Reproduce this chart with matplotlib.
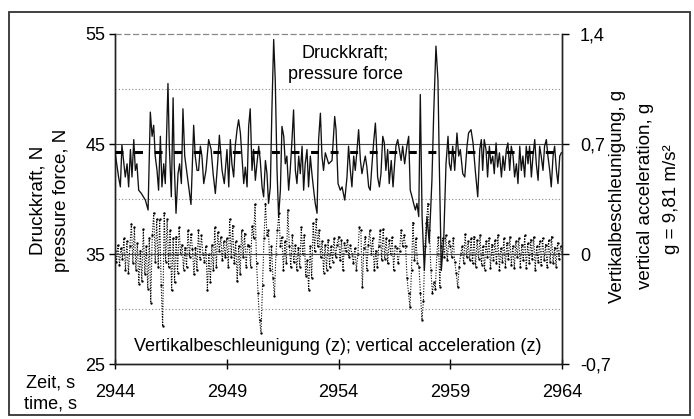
import matplotlib
matplotlib.use("Agg")
import matplotlib.pyplot as plt
import numpy as np
from matplotlib.patches import Rectangle

plt.rcParams['font.family'] = ['Liberation Sans', 'DejaVu Sans']

# ---------------- data ----------------
force_t = [
    2944.00, 2944.16, 2944.24, 2944.31, 2944.46, 2944.54, 2944.61, 2944.69, 2944.76, 2944.84, 2944.91, 2944.98,
    2945.06, 2945.18, 2945.36, 2945.48, 2945.58, 2945.66, 2945.73, 2945.80, 2945.88, 2945.95,
    2946.03, 2946.10, 2946.18, 2946.25, 2946.37, 2946.43, 2946.52, 2946.60, 2946.65, 2946.73, 2946.82, 2946.89, 2946.97,
    2947.04, 2947.12, 2947.22, 2947.30, 2947.40, 2947.52, 2947.59, 2947.67, 2947.74, 2947.82, 2947.89, 2947.97,
    2948.07, 2948.19, 2948.30, 2948.39, 2948.49, 2948.59, 2948.67, 2948.79, 2948.89,
    2949.01, 2949.09, 2949.16, 2949.23, 2949.31, 2949.38, 2949.46, 2949.53, 2949.61, 2949.68, 2949.76, 2949.83, 2949.91, 2949.98,
    2950.05, 2950.13, 2950.20, 2950.28, 2950.35, 2950.43, 2950.50, 2950.58, 2950.65, 2950.73, 2950.80, 2950.87, 2950.95,
    2951.02, 2951.10, 2951.17, 2951.25, 2951.32, 2951.40, 2951.47, 2951.55, 2951.62, 2951.69, 2951.77, 2951.84, 2951.92, 2951.99,
    2952.07, 2952.14, 2952.22, 2952.29, 2952.37, 2952.44, 2952.51, 2952.59, 2952.66, 2952.74, 2952.81, 2952.89, 2952.96,
    2953.04, 2953.11, 2953.19, 2953.26, 2953.33, 2953.41, 2953.56, 2953.71,
    2953.83, 2953.89, 2953.98, 2954.08, 2954.16, 2954.28, 2954.38, 2954.45, 2954.53, 2954.60, 2954.68, 2954.75, 2954.83, 2954.90, 2954.98,
    2955.05, 2955.13, 2955.20, 2955.27, 2955.35, 2955.42, 2955.50, 2955.57, 2955.65, 2955.69, 2955.75, 2955.83, 2955.90, 2955.98,
    2956.05, 2956.12, 2956.20, 2956.27, 2956.36, 2956.44, 2956.51, 2956.57, 2956.65, 2956.72, 2956.80, 2956.87, 2956.96,
    2957.06, 2957.14, 2957.21, 2957.29, 2957.36, 2957.44, 2957.51, 2957.59, 2957.66, 2957.74, 2957.84, 2957.96,
    2958.06, 2958.18, 2958.26, 2958.36, 2958.45, 2958.51, 2958.60, 2958.71,
    2958.81, 2958.90, 2958.96, 2959.03, 2959.11, 2959.20, 2959.30, 2959.38, 2959.45, 2959.56, 2959.65, 2959.75, 2959.82, 2959.93,
    2960.02, 2960.12, 2960.23, 2960.32, 2960.39, 2960.45, 2960.52, 2960.60, 2960.67, 2960.75, 2960.82, 2960.90, 2960.97,
    2961.05, 2961.12, 2961.20, 2961.29, 2961.36, 2961.43, 2961.51, 2961.58, 2961.66, 2961.73, 2961.81, 2961.88, 2961.96,
    2962.03, 2962.11, 2962.18, 2962.25, 2962.33, 2962.40, 2962.48, 2962.55, 2962.63, 2962.70, 2962.78, 2962.85, 2962.93,
    2963.00, 2963.07, 2963.15, 2963.22, 2963.30, 2963.37, 2963.45, 2963.52, 2963.60, 2963.67, 2963.75, 2963.82, 2963.90, 2963.97,
]
force_n = [
    44.3, 42.0, 41.1, 44.9, 42.0, 43.2, 41.1, 44.5, 42.0, 45.4, 42.6, 43.2,
    40.8, 40.5, 39.9, 39.0, 47.9, 45.7, 46.7, 43.9, 42.6, 40.8,
    45.7, 41.1, 43.2, 41.4, 50.5, 44.8, 40.2, 49.2, 43.2, 38.7, 42.3, 43.2, 41.4,
    48.2, 43.9, 42.3, 41.1, 39.5, 46.7, 43.9, 42.6, 42.6, 44.8, 43.9, 41.4,
    42.6, 45.4, 44.5, 42.3, 40.5, 43.2, 45.8, 42.6, 41.4,
    44.5, 41.1, 45.4, 43.2, 42.0, 44.8, 46.3, 47.2, 46.0, 43.9, 41.4, 42.9, 41.1, 46.6,
    48.2, 42.6, 44.5, 41.7, 43.2, 44.8, 43.5, 41.1, 40.2, 43.5, 42.3, 39.6, 41.1,
    48.1, 54.5, 50.8, 42.6, 38.4, 40.8, 46.6, 45.7, 43.2, 43.9, 40.8, 42.6, 45.4, 48.1,
    42.6, 41.4, 43.9, 42.3, 44.8, 40.8, 43.2, 44.5, 41.1, 43.9, 42.3, 40.8, 39.6,
    38.7, 45.4, 47.8, 43.9, 42.6, 44.2, 43.2, 43.5,
    47.5, 46.3, 41.4, 40.8, 41.1, 39.9, 42.0, 44.8, 42.6, 41.1, 43.9, 42.6, 44.5, 46.3, 43.5,
    42.3, 43.2, 43.9, 42.9, 41.1, 40.8, 43.2, 45.1, 46.9, 45.4, 42.0, 41.1, 42.3, 45.7,
    45.1, 42.6, 44.5, 41.4, 43.5, 41.1, 43.2, 44.8, 45.4, 44.5, 43.5, 44.8, 43.2,
    44.8, 45.7, 40.8, 40.2, 39.6, 39.0, 39.6, 38.4, 49.5, 38.4, 33.5, 38.4,
    36.0, 41.7, 47.8, 53.9, 50.8, 43.2, 33.5, 36.5,
    43.2, 45.7, 43.2, 42.6, 44.8, 42.6, 46.0, 43.9, 44.5, 42.3, 42.0, 44.8, 46.0, 46.3,
    45.1, 42.6, 40.2, 44.5, 45.4, 42.6, 45.4, 44.5, 42.0, 44.8, 43.2, 43.9, 42.3,
    45.1, 42.9, 44.2, 42.0, 43.9, 42.6, 44.5, 45.1, 42.6, 44.8, 43.9, 42.0, 43.2,
    41.4, 44.8, 42.6, 43.9, 42.0, 44.8, 43.2, 44.8, 42.0, 43.9, 45.4, 43.2, 41.7,
    44.8, 43.9, 42.6, 44.8, 45.4, 43.9, 42.6, 41.1, 43.9, 44.8, 42.6, 41.4, 43.9, 44.2,
]
mean_force = 44.25

# vertical acceleration in g, sampled 15 times per second (one row per second)
accel_rows = [
    [0.02, -0.05, 0.06, -0.07, 0.04, -0.03, 0.10, -0.10, 0.08, -0.12, 0.05, 0.19, -0.06, 0.17, -0.10],
    [0.07, -0.19, 0.02, -0.17, 0.16, -0.13, 0.05, -0.22, 0.10, -0.31, 0.12, 0.26, -0.05, 0.22, -0.08],
    [0.22, -0.20, -0.46, 0.26, -0.05, 0.22, -0.08, 0.15, -0.23, 0.10, -0.18, 0.11, -0.12, 0.17, 0.00],
    [0.06, -0.10, 0.04, -0.08, 0.15, -0.02, 0.13, 0.03, -0.13, 0.04, -0.10, 0.15, -0.03, 0.12, 0.00],
    [-0.05, 0.05, -0.23, 0.00, -0.18, 0.06, -0.10, 0.17, -0.08, 0.14, 0.02, 0.11, -0.04, 0.08, -0.02],
    [0.10, -0.08, 0.22, -0.02, 0.18, -0.06, 0.08, -0.17, 0.05, -0.13, 0.15, -0.02, 0.13, -0.08, 0.06],
    [0.05, -0.08, 0.18, 0.10, 0.32, -0.06, -0.25, -0.42, -0.50, -0.20, 0.10, 0.32, 0.12, 0.15, -0.10],
    [0.05, -0.15, -0.27, 0.00, 0.15, 0.26, 0.05, 0.11, -0.10, 0.08, -0.06, 0.28, 0.05, -0.08, 0.12],
    [-0.05, 0.06, -0.10, 0.04, -0.08, 0.17, 0.00, 0.12, -0.14, -0.04, -0.23, 0.05, -0.15, 0.20, 0.02],
    [0.22, 0.05, 0.15, -0.02, 0.08, -0.12, 0.06, -0.10, 0.09, -0.08, 0.05, -0.05, 0.10, -0.02, 0.06],
    [0.11, -0.04, 0.09, -0.10, 0.07, 0.02, 0.09, -0.02, 0.06, 0.00, -0.06, 0.04, -0.10, 0.00, 0.17],
    [0.15, -0.21, 0.04, 0.11, -0.10, 0.06, 0.15, 0.00, 0.10, -0.10, 0.02, -0.08, 0.05, 0.15, -0.04],
    [0.16, -0.03, 0.10, -0.06, 0.09, 0.00, 0.11, -0.10, 0.05, 0.04, -0.06, 0.02, 0.15, 0.05, 0.12],
    [0.05, -0.15, -0.25, -0.34, -0.10, 0.20, -0.04, 0.10, -0.06, -0.08, -0.25, -0.42, -0.30, 0.05, 0.20],
    [0.32, 0.15, -0.10, -0.25, -0.18, -0.22, 0.00, 0.11, -0.21, 0.05, 0.10, -0.02, 0.12, -0.04, 0.08],
    [0.05, -0.02, 0.10, -0.05, -0.12, -0.21, -0.08, 0.00, 0.05, -0.06, 0.13, -0.02, 0.08, -0.04, 0.10],
    [-0.06, 0.11, -0.08, 0.09, -0.03, 0.12, -0.07, 0.05, -0.10, 0.08, -0.02, 0.10, -0.09, 0.06, -0.04],
    [0.09, -0.06, 0.12, -0.10, 0.04, -0.05, 0.10, -0.08, 0.07, -0.03, 0.11, -0.07, 0.05, -0.09, 0.08],
    [-0.02, 0.10, -0.08, 0.06, -0.04, 0.12, -0.09, 0.07, -0.06, 0.09, -0.03, 0.11, -0.10, 0.05, -0.05],
    [0.08, -0.07, 0.10, -0.04, 0.06, -0.08, 0.09, -0.05, 0.11, -0.06, 0.04, -0.08, 0.07, -0.03, 0.05],
]
accel_last = 0.0

x_ticks = [2944, 2949, 2954, 2959, 2964]
left_ticks = [25, 35, 45, 55]
right_ticks = [-0.7, 0.0, 0.7, 1.4]
right_labels = ['-0,7', '0', '0,7', '1,4']

accel_g = [v for row in accel_rows for v in row] + [accel_last]
accel_t = np.linspace(2944, 2964, len(accel_g))

# ---------------- figure ----------------
W, H = 694, 419
fig = plt.figure(figsize=(W / 100, H / 100), dpi=100)
fig.patch.set_facecolor('white')

def fx(px):
    return px / W

def fy(py):
    return 1 - py / H

# outer frame
fig.patches.append(Rectangle((fx(9), fy(415)), fx(690) - fx(9), fy(12) - fy(415),
                             transform=fig.transFigure, fill=False,
                             edgecolor='#333333', linewidth=1.3))

ax = fig.add_axes([fx(115), fy(364), fx(562) - fx(115), fy(34) - fy(364)])
ax2 = ax.twinx()
ax.set_zorder(ax2.get_zorder() + 1)
ax.patch.set_visible(False)

ax.set_xlim(2944, 2964)
ax.set_ylim(25, 55)
ax2.set_ylim(-0.7, 1.4)

# grid lines
for v in (50, 40, 30):
    ax.axhline(v, color='#888888', lw=0.8, ls=(0, (1, 2)), zorder=1)
ax.axhline(45, color='#444444', lw=0.8, zorder=1)
ax.axhline(35, color='#444444', lw=0.8, zorder=1)
ax.axhline(55, color='#888888', lw=0.9, ls=(0, (5, 2)), zorder=1, clip_on=False)

# acceleration (dotted, with point markers)
ax2.plot(accel_t, accel_g, color='black', lw=0.8, ls=(0, (1, 1.4)),
         marker='.', markersize=3.4, markeredgewidth=0)

# force
ax.plot(force_t, force_n, color='#111111', lw=0.95, zorder=3)
ax.axhline(mean_force, color='black', lw=2.2, ls=(0, (2.6, 3.8)), zorder=4)

# spines
for a in (ax, ax2):
    a.spines['top'].set_visible(False)
    for s in ('left', 'right', 'bottom'):
        a.spines[s].set_linewidth(1.0)
        a.spines[s].set_color('#222222')

ax.set_xticks(x_ticks)
ax.set_xticklabels([str(v) for v in x_ticks])
ax.tick_params(axis='x', direction='inout', length=7, width=1.0, pad=11, labelsize=13)
ax.set_yticks(left_ticks)
ax.set_yticklabels([str(v) for v in left_ticks])
ax.tick_params(axis='y', direction='out', length=4, width=1.0, pad=3, labelsize=13)
ax2.set_yticks(right_ticks)
ax2.set_yticklabels(right_labels)
ax2.tick_params(axis='y', direction='out', length=5, width=1.0, pad=8, labelsize=13)

# texts
fs = 13
lfs = 13.5
fig.text(fx(345), fy(58), 'Druckkraft;', ha='center', va='baseline', fontsize=fs)
fig.text(fx(345), fy(79), 'pressure force', ha='center', va='baseline', fontsize=fs)
fig.text(fx(338), fy(351), 'Vertikalbeschleunigung (z); vertical acceleration (z)',
         ha='center', va='baseline', fontsize=fs)

fig.text(fx(38), fy(200), 'Druckkraft, N', rotation=90, ha='center', va='center', fontsize=lfs)
fig.text(fx(61), fy(200), 'pressure force, N', rotation=90, ha='center', va='center', fontsize=lfs)

fig.text(fx(617), fy(196), 'Vertikalbeschleunigung, g', rotation=90, ha='center', va='center', fontsize=lfs)
fig.text(fx(645), fy(196), 'vertical acceleration, g', rotation=90, ha='center', va='center', fontsize=lfs)
fig.text(fx(671), fy(199), 'g = 9,81 m/s\u00b2', rotation=90, ha='center', va='center', fontsize=lfs)

fig.text(fx(51), fy(387), 'Zeit, s', ha='center', va='baseline', fontsize=fs)
fig.text(fx(51), fy(408), 'time, s', ha='center', va='baseline', fontsize=fs)

fig.savefig('out.png', dpi=100, facecolor='white')
